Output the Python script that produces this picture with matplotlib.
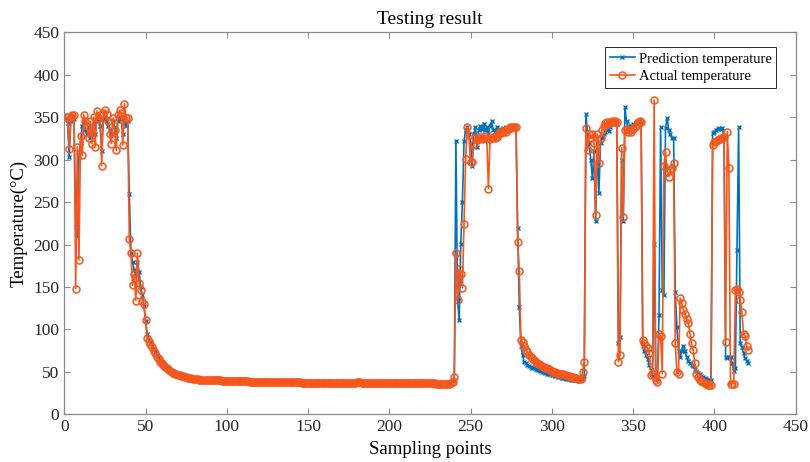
import numpy as np
import matplotlib
matplotlib.use('Agg')
import matplotlib.pyplot as plt

plt.rcParams['font.family'] = ['Liberation Serif', 'DejaVu Serif']
plt.rcParams['mathtext.fontset'] = 'stix'

# values, one segment per regime
act_start = [350, 350, 313, 350, 352, 352, 148, 315, 182, 328,
             305, 353, 345, 340, 326, 345, 319, 350, 315, 357,
             349, 352, 293, 355, 358, 354, 345, 330, 319, 349,
             335, 311, 353, 358, 355, 317, 366, 349, 349, 206]
pred_start = [348, 343, 303, 345, 350, 348, 221, 210, 305, 320,
              340, 345, 335, 330, 338, 325, 330, 343, 330, 350,
              345, 340, 310, 348, 350, 346, 340, 335, 330, 345,
              338, 325, 345, 350, 348, 330, 350, 340, 345, 260]

act_cool1 = [190, 152, 165, 134, 190, 155, 146, 134, 130, 111,
             90, 86, 83, 79, 75, 72, 68, 65, 62, 60,
             58, 56, 54, 53, 51, 50, 49, 48, 47, 46]
pred_cool1 = [190, 180, 170, 165, 180, 168, 150, 140, 128, 110,
              95, 88, 84, 80, 77, 73, 70, 67, 64, 62,
              60, 58, 56, 54, 52, 51, 50, 49, 48, 47]

act_flat = [46, 45, 45, 44, 44, 43, 43, 43, 42, 42,
            42, 42, 41, 41, 41, 41, 41, 40, 40, 40,
            40, 40, 40, 40, 40, 40, 39.5, 39.5, 39.5, 39.5,
            39.5, 39, 39, 39, 39, 39, 39, 39, 39, 39,
            38.8, 38.8, 38.8, 38.6, 38.6, 38.6, 38.5, 38.5, 38.4, 38.4,
            38.3, 38.3, 38.2, 38.2, 38.1, 38.1, 38, 38, 38, 38,
            37.9, 37.9, 37.8, 37.8, 37.8, 37.7, 37.7, 37.7, 37.6, 37.6,
            37.6, 37.5, 37.5, 37.5, 37.5, 37.4, 37.4, 37.4, 37.4, 37.3,
            37.3, 37.3, 37.3, 37.3, 37.2, 37.2, 37.2, 37.2, 37.2, 37.1,
            37.1, 37.1, 37.1, 37.1, 37.1, 37, 37, 37, 37, 37,
            37, 37, 36.9, 36.9, 36.9, 36.9, 36.9, 36.9, 37.2, 37.8,
            38.5, 37.6, 37.3, 37.2, 37.1, 37.1, 37, 37, 37, 37,
            36.9, 36.9, 36.9, 36.9, 36.8, 36.8, 36.8, 36.8, 36.8, 36.8,
            36.8, 36.7, 36.7, 36.7, 36.7, 36.7, 36.7, 36.7, 36.6, 36.6,
            36.6, 36.6, 36.6, 36.6, 36.6, 36.5, 36.5, 36.5, 36.5, 36.5,
            36.5, 36.5, 36.4, 36.4, 36.4, 36.4, 36.4, 36.4, 36.3, 36.3,
            36.3, 36.3, 36.3, 36.2, 36.2, 36.2, 36.2, 36.5, 38]
pred_flat = [47, 46, 46, 45, 45, 44, 44, 43.5, 43, 43,
             42.5, 42.5, 42, 42, 41.5, 41.5, 41, 41, 40.5, 40.5,
             40.5, 40, 40, 40, 40, 39.8, 39.6, 39.5, 39.4, 39.3,
             39.2, 39.1, 39, 39, 38.9, 38.8, 38.8, 38.7, 38.7, 38.6,
             38.6, 38.5, 38.5, 38.4, 38.4, 38.3, 38.3, 38.2, 38.2, 38.1,
             38.1, 38, 38, 38, 37.9, 37.9, 37.8, 37.8, 37.8, 37.7,
             37.7, 37.7, 37.6, 37.6, 37.6, 37.5, 37.5, 37.5, 37.5, 37.4,
             37.4, 37.4, 37.4, 37.3, 37.3, 37.3, 37.3, 37.3, 37.2, 37.2,
             37.2, 37.2, 37.2, 37.1, 37.1, 37.1, 37.1, 37.1, 37.1, 37,
             37, 37, 37, 37, 37, 36.9, 36.9, 36.9, 36.9, 36.9,
             36.9, 36.8, 36.8, 36.8, 36.8, 36.8, 36.8, 36.8, 37, 37.5,
             38, 37.4, 37.1, 37, 36.9, 36.9, 36.8, 36.8, 36.8, 36.8,
             36.7, 36.7, 36.7, 36.7, 36.7, 36.6, 36.6, 36.6, 36.6, 36.6,
             36.6, 36.5, 36.5, 36.5, 36.5, 36.5, 36.5, 36.4, 36.4, 36.4,
             36.4, 36.4, 36.4, 36.3, 36.3, 36.3, 36.3, 36.3, 36.3, 36.2,
             36.2, 36.2, 36.2, 36.2, 36.1, 36.1, 36.1, 36.1, 36.1, 36,
             36, 36, 36, 36, 36, 36, 36.2, 37, 39]

act_heat2 = [44, 190, 135, 171, 165, 149, 224, 301, 339, 329,
             297, 297, 318, 325, 323, 325, 327, 324, 326, 328,
             325, 266, 324, 326, 327, 325, 327, 330, 332, 331,
             333, 335, 333, 336, 338, 337, 339, 338, 339, 203,
             169, 88]
pred_heat2 = [40, 322, 137, 111, 201, 250, 322, 335, 339, 330,
              320, 292, 330, 338, 315, 335, 340, 336, 342, 335,
              338, 330, 340, 345, 335, 332, 338, 330, 334, 336,
              337, 335, 338, 337, 336, 338, 339, 337, 338, 220,
              126, 80]

act_cool2 = [85, 80, 76, 73, 70, 68, 66, 64, 62, 60,
             59, 58, 57, 56, 55, 54, 53, 52, 51, 50,
             50, 49, 48, 48, 47, 47, 46, 46, 45, 45,
             44, 44, 43, 43, 42, 42, 42, 50, 62]
pred_cool2 = [70, 62, 60, 58, 57, 56, 55, 54, 53, 52,
              52, 51, 50, 50, 49, 48, 48, 47, 46, 46,
              45, 45, 44, 44, 43, 43, 43, 42, 42, 42,
              41, 41, 41, 40, 40, 40, 40, 42, 45]

act_cycle = [337, 311, 330, 325, 330, 320, 235, 330, 296, 325,
             335, 340, 343, 344, 342, 344, 345, 344, 345, 344,
             62, 70, 314, 233, 335, 336, 332, 335, 333, 336,
             338, 340, 344, 345, 344, 87, 84, 80, 78, 72,
             46, 48, 370, 40, 38, 95, 92, 48, 292, 309,
             286, 280, 288, 290, 296, 84, 50, 48, 137, 131,
             123, 118, 112, 108, 95, 84, 76, 60, 48, 44,
             40, 39, 38, 37, 36, 35, 34, 34, 317, 321,
             322, 323, 324, 325, 326, 327, 85, 333, 290, 36,
             36, 36, 146, 148, 144, 135, 121, 95, 92, 80,
             76]
pred_cycle = [354, 330, 320, 300, 278, 310, 228, 320, 261, 320,
              325, 330, 333, 335, 334, 338, 342, 343, 344, 342,
              84, 91, 300, 228, 362, 345, 340, 338, 340, 342,
              340, 343, 344, 345, 343, 80, 75, 70, 65, 58,
              52, 45, 201, 45, 42, 117, 338, 146, 141, 337,
              349, 335, 330, 325, 325, 144, 103, 75, 67, 75,
              81, 75, 67, 63, 60, 58, 57, 53, 51, 49,
              47, 45, 44, 43, 42, 41, 40, 40, 331, 333,
              335, 336, 337, 336, 337, 325, 67, 66, 68, 67,
              60, 51, 55, 193, 338, 84, 79, 72, 66, 63,
              61]

actual = np.array(act_start + act_cool1 + act_flat + act_heat2 + act_cool2 + act_cycle)
predicted = np.array(pred_start + pred_cool1 + pred_flat + pred_heat2 + pred_cool2 + pred_cycle)
samples = np.arange(1, len(actual) + 1)

BLUE = '#0072BD'
ORANGE = '#F8561A'
AXIS_GRAY = '#8a8a8a'

fig = plt.figure(figsize=(8.1, 4.62), dpi=100)
ax = fig.add_axes([0.0794, 0.1032, 0.9027, 0.8269])

ax.plot(samples, predicted, color=BLUE, lw=1.2, marker='x', ms=3.5, mew=1.0,
        label='Prediction temperature')
ax.plot(samples, actual, color=ORANGE, lw=1.2, marker='o', ms=5, mfc='none', mew=1.1,
        label='Actual temperature')

ax.set_xlim(0, 450)
ax.set_ylim(0, 450)
ax.set_xticks(np.arange(0, 451, 50))
ax.set_yticks(np.arange(0, 451, 50))
ax.tick_params(direction='in', top=True, right=True, labelsize=12.5, length=4,
               color=AXIS_GRAY, labelcolor='#262626', width=0.8)
for sp in ax.spines.values():
    sp.set_color(AXIS_GRAY)
    sp.set_linewidth(0.9)

ax.set_title('Testing result', fontsize=14, pad=6)
ax.set_xlabel('Sampling points', fontsize=13.5, labelpad=4)
ax.set_ylabel('Temperature(°C)', fontsize=13.5, labelpad=4)

leg = ax.legend(loc='upper right', bbox_to_anchor=(0.974, 0.961), fontsize=10.5,
                fancybox=False, framealpha=1, edgecolor='#262626',
                handlelength=1.7, handletextpad=0.25, borderpad=0.35,
                labelspacing=0.3, borderaxespad=0)
leg.get_frame().set_linewidth(0.7)

fig.savefig('out.png', dpi=100)
